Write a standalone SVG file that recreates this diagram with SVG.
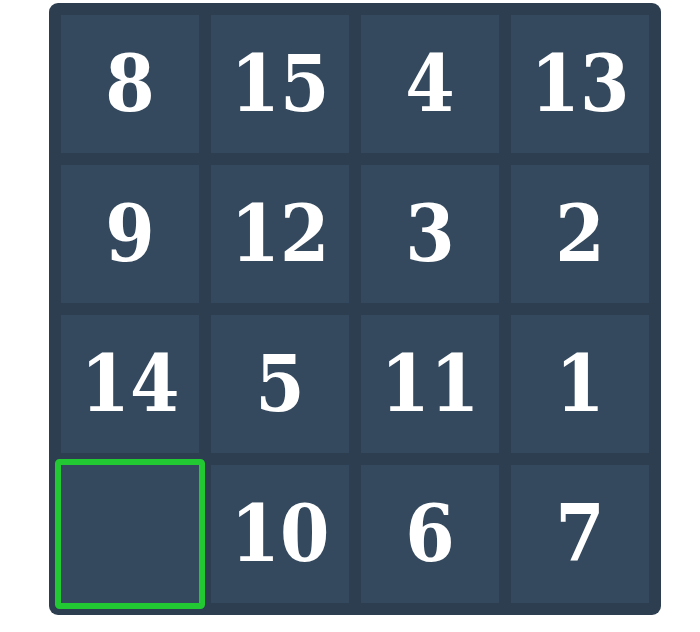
<svg xmlns="http://www.w3.org/2000/svg" width="700" height="632" viewBox="0 0 700 632">
<style>
.board{fill:#2c3e50}
.tile{fill:#34495e}
.num{fill:#ffffff;font-family:"DejaVu Serif Condensed","DejaVu Serif","Liberation Serif",serif;font-stretch:condensed;font-weight:bold;font-size:79px;text-anchor:middle}
.sel{fill:none;stroke:#22c932;stroke-width:6}
</style>
<rect width="700" height="632" fill="#ffffff"/>
<rect class="board" x="49" y="3" width="612" height="612" rx="9"/>
<g id="t8"><rect class="tile" x="61" y="15" width="138" height="138"/><text class="num" x="130" y="111">8</text></g>
<g id="t15"><rect class="tile" x="211" y="15" width="138" height="138"/><text class="num" x="280" y="111">15</text></g>
<g id="t4"><rect class="tile" x="361" y="15" width="138" height="138"/><text class="num" x="430" y="111">4</text></g>
<g id="t13"><rect class="tile" x="511" y="15" width="138" height="138"/><text class="num" x="580" y="111">13</text></g>
<g id="t9"><rect class="tile" x="61" y="165" width="138" height="138"/><text class="num" x="130" y="261">9</text></g>
<g id="t12"><rect class="tile" x="211" y="165" width="138" height="138"/><text class="num" x="280" y="261">12</text></g>
<g id="t3"><rect class="tile" x="361" y="165" width="138" height="138"/><text class="num" x="430" y="261">3</text></g>
<g id="t2"><rect class="tile" x="511" y="165" width="138" height="138"/><text class="num" x="580" y="261">2</text></g>
<g id="t14"><rect class="tile" x="61" y="315" width="138" height="138"/><text class="num" x="130" y="411">14</text></g>
<g id="t5"><rect class="tile" x="211" y="315" width="138" height="138"/><text class="num" x="280" y="411">5</text></g>
<g id="t11"><rect class="tile" x="361" y="315" width="138" height="138"/><text class="num" x="430" y="411">11</text></g>
<g id="t1"><rect class="tile" x="511" y="315" width="138" height="138"/><text class="num" x="580" y="411">1</text></g>
<g id="empty"><rect class="tile" x="61" y="465" width="138" height="138"/><rect class="sel" x="58" y="462" width="144" height="144" rx="1.5"/></g>
<g id="t10"><rect class="tile" x="211" y="465" width="138" height="138"/><text class="num" x="280" y="561">10</text></g>
<g id="t6"><rect class="tile" x="361" y="465" width="138" height="138"/><text class="num" x="430" y="561">6</text></g>
<g id="t7"><rect class="tile" x="511" y="465" width="138" height="138"/><text class="num" x="580" y="561">7</text></g>
<g id="connectors"></g>
</svg>
